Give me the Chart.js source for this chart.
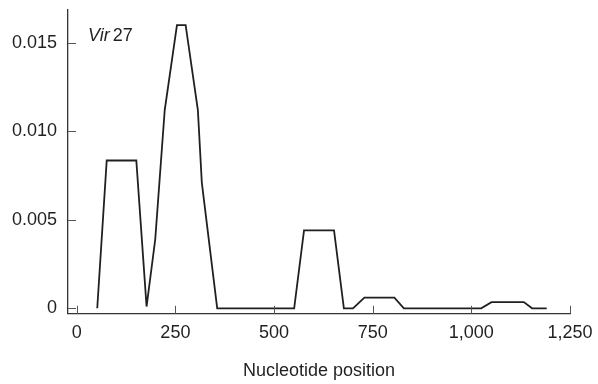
<!DOCTYPE html>
<html>
<head>
<meta charset="utf-8">
<script src="https://cdn.jsdelivr.net/npm/chart.js@4"></script>
<style>
  html, body { margin: 0; padding: 0; background: #fff; }
  #wrap { width: 598px; height: 384px; }
</style>
</head>
<body>
<div id="wrap"><canvas id="plot"></canvas></div>
<script>
// sliding-window diversity along the Vir 27 sequence
const positions = [52, 76, 151, 177, 199, 223, 254, 276, 307, 317, 356, 551, 576, 652, 677, 700, 729, 805, 829, 1025, 1051, 1133, 1154, 1191];
const diversity = [0, 0.00835, 0.00835, 0.0001, 0.0039, 0.0112, 0.0160, 0.0160, 0.0112, 0.0071, 0, 0, 0.0044, 0.0044, 0, 0, 0.0006, 0.0006, 0, 0, 0.00035, 0.00035, 0, 0];

const xTicks = [0, 250, 500, 750, 1000, 1250];
const yTicks = [0, 0.005, 0.010, 0.015];

const FONT = '"Liberation Sans", Arial, sans-serif';
const INK = '#231f20';

// tick marks pointing into the plot, plus the strain label
const innerTicks = {
  id: 'innerTicks',
  afterDraw(chart) {
    const { ctx, chartArea, scales } = chart;
    ctx.save();
    ctx.strokeStyle = '#555';
    ctx.lineWidth = 1;
    ctx.beginPath();
    scales.x.ticks.forEach(t => {
      const px = Math.round(scales.x.getPixelForValue(t.value)) + 0.5;
      ctx.moveTo(px, chartArea.bottom);
      ctx.lineTo(px, chartArea.bottom - 8);
    });
    scales.y.ticks.forEach(t => {
      const py = Math.round(scales.y.getPixelForValue(t.value)) + 0.5;
      ctx.moveTo(chartArea.left, py);
      ctx.lineTo(chartArea.left + 8, py);
    });
    ctx.stroke();

    ctx.fillStyle = INK;
    ctx.textBaseline = 'alphabetic';
    ctx.font = 'italic 18px ' + FONT;
    const x0 = chartArea.left + 20;
    const y0 = chartArea.top + 31;
    ctx.fillText('Vir', x0, y0);
    const w = ctx.measureText('Vir ').width;
    ctx.font = '18px ' + FONT;
    ctx.fillText('27', x0 + w - 2, y0);
    ctx.restore();
  }
};

new Chart(document.getElementById('plot'), {
  type: 'line',
  data: {
    datasets: [{
      data: positions.map((p, i) => ({ x: p, y: diversity[i] })),
      borderColor: INK,
      borderWidth: 1.8,
      pointRadius: 0,
      tension: 0,
      fill: false
    }]
  },
  options: {
    responsive: true,
    maintainAspectRatio: false,
    animation: false,
    layout: { padding: { top: 10, right: 28, bottom: 2, left: 1 } },
    plugins: {
      legend: { display: false },
      tooltip: { enabled: false }
    },
    scales: {
      x: {
        type: 'linear',
        min: -22,
        max: 1250,
        afterBuildTicks: s => { s.ticks = xTicks.map(v => ({ value: v })); },
        afterFit: s => { s.paddingRight = 0; },
        grid: { display: false, drawTicks: false },
        border: { display: true, color: '#333', width: 1.3 },
        ticks: {
          padding: 8,
          color: INK,
          font: { family: FONT, size: 18 },
          callback: v => v.toLocaleString('en-US')
        },
        title: {
          display: true,
          text: 'Nucleotide position',
          color: INK,
          font: { family: FONT, size: 18 },
          padding: { top: 9, bottom: 0 }
        }
      },
      y: {
        min: -0.00031,
        max: 0.01685,
        afterBuildTicks: s => { s.ticks = yTicks.map(v => ({ value: v })); },
        afterFit: s => { s.paddingTop = 0; },
        grid: { display: false, drawTicks: false },
        border: { display: true, color: '#333', width: 1.3 },
        ticks: {
          padding: 11,
          color: INK,
          font: { family: FONT, size: 18 },
          callback: v => (v === 0 ? '0' : v.toFixed(3))
        }
      }
    }
  },
  plugins: [innerTicks]
});
</script>
</body>
</html>
